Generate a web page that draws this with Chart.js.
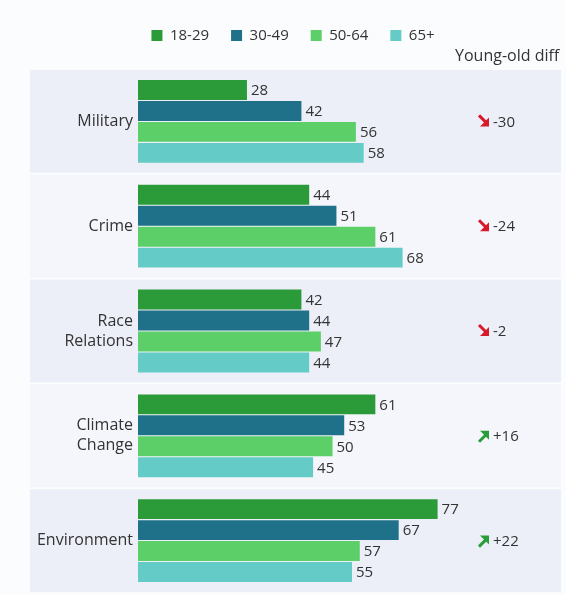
<!DOCTYPE html>
<html>
<head>
<meta charset="utf-8">
<script src="https://cdn.jsdelivr.net/npm/chart.js@4/dist/chart.umd.min.js"></script>
<style>
  html, body { margin: 0; padding: 0; background: #fbfcfe; }
  #wrap { width: 566px; height: 595px; }
</style>
</head>
<body>
<div id="wrap"><canvas id="ageChart" width="566" height="595"></canvas></div>
<script>
// chart data
const categories = ["Military", "Crime", ["Race", "Relations"], ["Climate", "Change"], "Environment"];
const ageGroups = ["18-29", "30-49", "50-64", "65+"];
const age18to29 = [28, 44, 42, 61, 77];
const age30to49 = [42, 51, 44, 53, 67];
const age50to64 = [56, 61, 47, 50, 57];
const age65plus = [58, 68, 44, 45, 55];
const youngOldDiff = [-30, -24, -2, 16, 22];

const colors = ["#2b9a38", "#1f7189", "#5ccf69", "#65cbc6"];
const FONT = "'Open Sans', 'Noto Sans', sans-serif";

// panels behind each category + the diff column
const panelPlugin = {
    id: "panels",
    beforeInit(chart) {
        const legend = chart.legend;
        // extra room under the legend
        const fit = legend.fit;
        legend.fit = function () {
            fit.call(this);
            this.height += 16;
        };
        // legend sits a bit right of centre in the original
        const draw = legend.draw;
        legend.draw = function () {
            const ctx = this.ctx;
            ctx.save();
            ctx.translate(10, 0);
            draw.call(this);
            ctx.restore();
        };
    },
    beforeDraw(chart) {
        const { ctx, chartArea, scales } = chart;
        const y = scales.y;
        const step = (chartArea.bottom - chartArea.top) / categories.length;
        ctx.save();
        categories.forEach((c, i) => {
            const mid = y.getPixelForValue(i);
            ctx.fillStyle = i % 2 === 0 ? "#eceff8" : "#f4f6fb";
            ctx.fillRect(30, mid - step / 2 + 1, 531, step - 2);
        });
        ctx.restore();
    },
    afterDatasetsDraw(chart) {
        const { ctx, scales } = chart;
        const y = scales.y;
        ctx.save();

        // value labels
        ctx.font = "15px " + FONT;
        ctx.fillStyle = "#333";
        ctx.textAlign = "left";
        ctx.textBaseline = "middle";
        chart.data.datasets.forEach((ds, di) => {
            chart.getDatasetMeta(di).data.forEach((bar, i) => {
                ctx.fillText(ds.data[i], bar.x + 4, bar.y + 1);
            });
        });

        // header
        ctx.font = "16px " + FONT;
        ctx.fillStyle = "#333";
        ctx.fillText("Young-old diff", 455, 56);

        // diff arrows + numbers
        youngOldDiff.forEach((d, i) => {
            const cy = y.getPixelForValue(i);
            const up = d > 0;
            const col = up ? "#2a9d3a" : "#d7192a";
            const ax = 478, ay = cy;
            ctx.strokeStyle = col;
            ctx.fillStyle = col;
            ctx.lineWidth = 3;
            ctx.beginPath();
            if (up) {
                ctx.moveTo(ax + 1, ay + 6);
                ctx.lineTo(ax + 8, ay - 1);
                ctx.stroke();
                ctx.beginPath();
                ctx.moveTo(ax + 11, ay - 5);
                ctx.lineTo(ax + 11, ay + 4);
                ctx.lineTo(ax + 2, ay - 5);
                ctx.closePath();
                ctx.fill();
            } else {
                ctx.moveTo(ax + 1, ay - 6);
                ctx.lineTo(ax + 8, ay + 1);
                ctx.stroke();
                ctx.beginPath();
                ctx.moveTo(ax + 11, ay + 5);
                ctx.lineTo(ax + 11, ay - 4);
                ctx.lineTo(ax + 2, ay + 5);
                ctx.closePath();
                ctx.fill();
            }
            ctx.fillStyle = "#333";
            ctx.font = "15px " + FONT;
            ctx.fillText((up ? "+" : "") + d, ax + 15, cy + 1);
        });

        ctx.restore();
    }
};

const seriesValues = [age18to29, age30to49, age50to64, age65plus];

new Chart(document.getElementById("ageChart"), {
    type: "bar",
    data: {
        labels: categories,
        datasets: ageGroups.map((g, i) => ({
            label: g,
            data: seriesValues[i],
            backgroundColor: colors[i],
            borderWidth: 0,
            categoryPercentage: 0.8,
            barPercentage: 0.95
        }))
    },
    options: {
        indexAxis: "y",
        responsive: false,
        animation: false,
        layout: { padding: { top: 6, right: 0, bottom: 2, left: 0 } },
        plugins: {
            legend: {
                display: true,
                position: "top",
                labels: {
                    boxWidth: 11,
                    boxHeight: 11,
                    padding: 22,
                    color: "#333",
                    font: { family: FONT, size: 15 }
                }
            },
            tooltip: { enabled: false }
        },
        scales: {
            x: {
                min: 0,
                max: 110,
                display: false
            },
            y: {
                grid: { display: false, drawTicks: false },
                border: { display: false },
                afterFit(scale) {
                    scale.width = 138;
                    scale.paddingTop = 0;
                    scale.paddingBottom = 0;
                },
                ticks: {
                    color: "#333",
                    padding: 5,
                    font: { family: FONT, size: 16, lineHeight: 1.25 }
                }
            }
        }
    },
    plugins: [panelPlugin]
});
</script>
</body>
</html>
